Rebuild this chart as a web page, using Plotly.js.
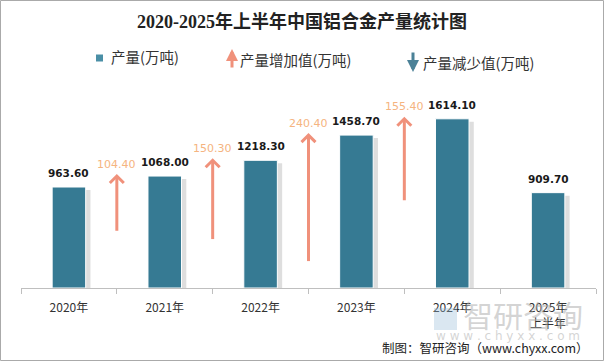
<!DOCTYPE html>
<html>
<head>
<meta charset="utf-8">
<script src="https://cdn.plot.ly/plotly-3.0.1.min.js"></script>
<style>
html,body{margin:0;padding:0;background:#fff;}
#chart{width:604px;height:361px;}
</style>
</head>
<body>
<div id="chart"></div>
<script>
// ---- data ----
const categories = ['2020年','2021年','2022年','2023年','2024年','2025年<br>上半年'];
const production = [963.6, 1068.0, 1218.3, 1458.7, 1614.1, 909.7];
// change vs previous year (null = no arrow)
const increase = [null, 104.4, 150.3, 240.4, 155.4, null];
const decrease = [null, null, null, null, null, null];

// ---- layout constants ----
const W = 604, H = 361;
const M = {l: 21, r: 8, t: 90, b: 73};
const plotW = W - M.l - M.r, plotH = H - M.t - M.b;
const YMAX = 1889;
const pxX = plotW / categories.length;   // px per category
const pxY = plotH / YMAX;                 // px per unit
const ARROW_SCALE = 5;                    // arrow length = 5x change (visual)
const BAR_W = 0.35;

const barColor = '#367A93';
const upColor = '#F0917B';
const upText = '#F5B480';
const downColor = '#4B8197';

const idx = categories.map((_, i) => i);

// shadow bars
const shadow = {
  type: 'bar', x: idx.map(i => i + 0.05), y: production.map(v => v - 3 / pxY),
  width: BAR_W, marker: {color: 'rgba(0,0,0,0.13)'}, hoverinfo: 'skip', showlegend: false
};
const bars = {
  type: 'bar', x: idx, y: production, width: BAR_W,
  marker: {color: barColor, line: {color: '#ffffff', width: 1}},
  showlegend: false, hoverinfo: 'skip'
};

// arrows
const ax = [], ay = [];
const armX = 7 / pxX, armY = 7 / pxY;
increase.forEach((inc, i) => {
  if (inc == null) return;
  const xc = i - 0.5, top = production[i], bot = production[i] - ARROW_SCALE * inc;
  ax.push(xc, xc, null, xc - armX, xc, xc + armX, null);
  ay.push(bot, top, null, top - armY, top, top - armY, null);
});
const arrows = {
  type: 'scatter', mode: 'lines', x: ax, y: ay,
  line: {color: upColor, width: 3}, hoverinfo: 'skip', showlegend: false
};

const annotations = [];
production.forEach((v, i) => {
  annotations.push({x: i, y: v, xref: 'x', yref: 'y', text: v.toFixed(2), showarrow: false,
    yanchor: 'middle', yshift: 14, font: {family: 'DejaVu Sans', size: 10.5, color: '#1a1a1a', weight: 'bold'}});
});
increase.forEach((inc, i) => {
  if (inc == null) return;
  annotations.push({x: i - 0.5, y: production[i], xref: 'x', yref: 'y', text: inc.toFixed(2), showarrow: false,
    yanchor: 'middle', yshift: 12, font: {family: 'DejaVu Sans', size: 11, color: upText}});
});

// helpers: pixel -> paper
const PX = px => (px - M.l) / plotW;
const PY = py => (H - M.b - py) / plotH;

const legFont = {family: 'Noto Sans CJK SC', size: 14.5, color: '#333333'};
annotations.push(
  {xref: 'paper', yref: 'paper', x: PX(109), y: PY(57), text: '产量(万吨)', showarrow: false, xanchor: 'left', yanchor: 'middle', font: legFont},
  {xref: 'paper', yref: 'paper', x: PX(238), y: PY(59), text: '产量增加值(万吨)', showarrow: false, xanchor: 'left', yanchor: 'middle', font: legFont},
  {xref: 'paper', yref: 'paper', x: PX(421), y: PY(62), text: '产量减少值(万吨)', showarrow: false, xanchor: 'left', yanchor: 'middle', font: legFont},
  {xref: 'paper', yref: 'paper', x: PX(232), y: PY(49), text: '', showarrow: true, ax: 0, ay: 20, arrowhead: 2, arrowsize: 0.8, arrowwidth: 3, arrowcolor: upColor},
  {xref: 'paper', yref: 'paper', x: PX(413), y: PY(72), text: '', showarrow: true, ax: 0, ay: -21, arrowhead: 2, arrowsize: 0.8, arrowwidth: 3, arrowcolor: downColor},
  // watermark
  {xref: 'paper', yref: 'paper', x: PX(523), y: PY(314), text: '智研咨询', showarrow: false, xanchor: 'center', yanchor: 'middle',
    font: {family: 'Noto Sans CJK SC', size: 30, color: 'rgba(170,170,170,0.5)'}},
  {xref: 'paper', yref: 'paper', x: PX(508), y: PY(336), text: 'w w w . c h y x x . c o m', showarrow: false, xanchor: 'center', yanchor: 'middle',
    font: {family: 'DejaVu Sans', size: 12, color: 'rgba(170,170,170,0.5)'}},
  // source
  {xref: 'paper', yref: 'paper', x: PX(591), y: PY(347), text: '制图：智研咨询（www.chyxx.com）', showarrow: false, xanchor: 'right', yanchor: 'middle',
    font: {family: 'Noto Sans CJK SC', size: 12.5, color: '#222222'}}
);

const shapes = [
  {type: 'rect', xref: 'paper', yref: 'paper', x0: PX(96), x1: PX(103), y0: PY(54.5), y1: PY(61.5), fillcolor: '#4A8FA6', line: {width: 0}},
  // watermark logo (simplified)
  {type: 'rect', xref: 'paper', yref: 'paper', x0: PX(434), x1: PX(457), y0: PY(330), y1: PY(308), fillcolor: 'rgba(150,185,215,0.35)', line: {width: 0}},
  // frame
  {type: 'rect', xref: 'paper', yref: 'paper', x0: PX(0.5), x1: PX(603.5), y0: PY(360.5), y1: PY(0.5), line: {color: '#aaaaaa', width: 1}, layer: 'above'}
];

const layout = {
  width: W, height: H, margin: M,
  paper_bgcolor: '#ffffff', plot_bgcolor: '#ffffff',
  barmode: 'overlay',
  title: {text: '2020-2025年上半年中国铝合金产量统计图', x: 0.5, xref: 'container', xanchor: 'center', y: 1 - 22 / H, yref: 'container', yanchor: 'middle',
    font: {family: 'Liberation Serif, Noto Sans CJK SC', size: 18, color: '#222222', weight: 'bold'}},
  xaxis: {
    range: [-0.5, categories.length - 0.5], tickmode: 'array', tickvals: idx, ticktext: categories,
    ticks: '', ticklabelstandoff: 9, showgrid: false, zeroline: false, showline: true, linecolor: '#bfbfbf', linewidth: 1,
    tickfont: {family: 'Noto Sans CJK SC', size: 12, color: '#333333'},
    minor: {tickmode: 'array', tickvals: idx.concat([categories.length]).map(i => i - 0.5), ticks: 'outside', ticklen: 5, tickcolor: '#bfbfbf', tickwidth: 1, showgrid: false},
    fixedrange: true
  },
  yaxis: {range: [0, YMAX], visible: false, showgrid: false, zeroline: false, fixedrange: true},
  annotations: annotations, shapes: shapes, showlegend: false
};

Plotly.newPlot('chart', [shadow, bars, arrows], layout, {displayModeBar: false, staticPlot: true});
</script>
</body>
</html>
